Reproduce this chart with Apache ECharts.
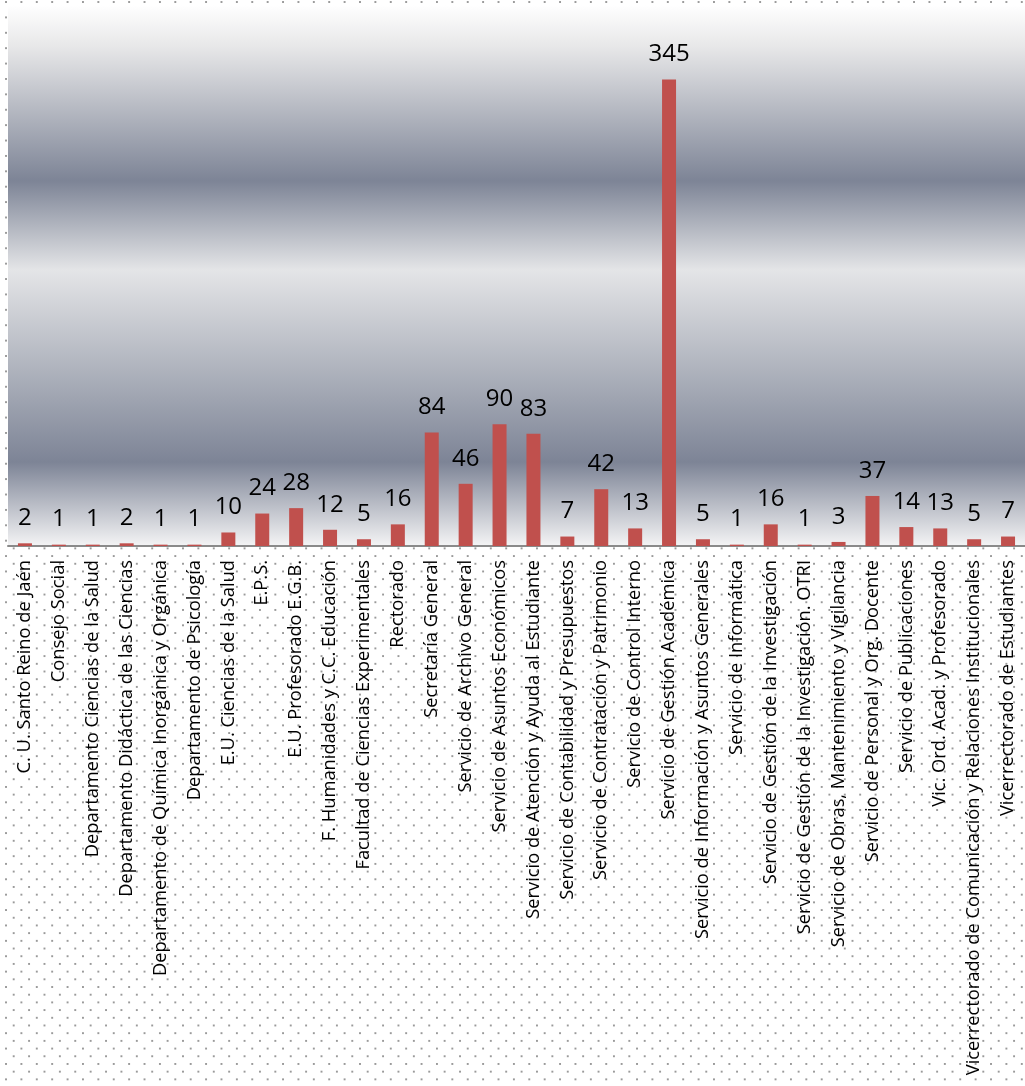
<!DOCTYPE html>
<html>
<head>
<meta charset="utf-8">
<script src="https://cdn.jsdelivr.net/npm/echarts@6/dist/echarts.min.js"></script>
<style>
html, body { margin: 0; padding: 0; }
body {
  width: 1025px; height: 1086px; overflow: hidden;
  background-color: #ffffff;
  background-image:
    radial-gradient(circle, #9a9a9a 0, #9a9a9a 0.9px, rgba(154,154,154,0) 1.5px),
    radial-gradient(circle, #9a9a9a 0, #9a9a9a 0.9px, rgba(154,154,154,0) 1.5px);
  background-size: 15.4px 15.4px, 15.4px 15.4px;
  background-position: -1.7px -5.7px, 6px 2px;
}
#chart { width: 1025px; height: 1086px; }
</style>
</head>
<body>
<div id="chart"></div>
<script>
const categories = [
  "C. U. Santo Reino de Jaén",
  "Consejo Social",
  "Departamento Ciencias de la Salud",
  "Departamento Didáctica de las Ciencias",
  "Departamento de Química Inorgánica y Orgánica",
  "Departamento de Psicología",
  "E.U. Ciencias de la Salud",
  "E.P.S.",
  "E.U. Profesorado E.G.B.",
  "F. Humanidades y C.C. Educación",
  "Facultad de Ciencias Experimentales",
  "Rectorado",
  "Secretaría General",
  "Servicio de Archivo General",
  "Servicio de Asuntos Económicos",
  "Servicio de Atención y Ayuda al Estudiante",
  "Servicio de Contabilidad y Presupuestos",
  "Servicio de Contratación y Patrimonio",
  "Servicio de Control Interno",
  "Servicio de Gestión Académica",
  "Servicio de Información y Asuntos Generales",
  "Servicio de Informática",
  "Servicio de Gestión de la Investigación",
  "Servicio de Gestión de la Investigación. OTRI",
  "Servicio de Obras, Mantenimiento y Vigilancia",
  "Servicio de Personal y Org. Docente",
  "Servicio de Publicaciones",
  "Vic. Ord. Acad. y Profesorado",
  "Vicerrectorado de Comunicación y Relaciones Institucionales",
  "Vicerrectorado de Estudiantes"
];
const values = [2, 1, 1, 2, 1, 1, 10, 24, 28, 12, 5, 16, 84, 46, 90, 83, 7, 42, 13, 345, 5, 1, 16, 1, 3, 37, 14, 13, 5, 7];
const yMin = 0;
const yMax = 400;

const chart = echarts.init(document.getElementById('chart'), null, { renderer: 'canvas' });
chart.setOption({
  backgroundColor: 'transparent',
  animation: false,
  grid: {
    left: 8, top: 5, width: 1026, height: 541,
    show: true,
    borderWidth: 0,
    backgroundColor: new echarts.graphic.LinearGradient(0, 0, 0, 1, [
      { offset: 0, color: '#FFFFFF' },
      { offset: 0.075, color: '#E8E8E9' },
      { offset: 0.325, color: '#7D8496' },
      { offset: 0.49, color: '#E4E5E7' },
      { offset: 0.845, color: '#7D8496' },
      { offset: 1, color: '#F4F4F5' }
    ])
  },
  xAxis: {
    type: 'category',
    data: categories,
    axisLine: { show: true, lineStyle: { color: '#8A8A8A', width: 2 } },
    axisTick: { show: false },
    axisLabel: {
      interval: 0,
      rotate: 90,
      margin: 14,
      color: '#000000',
      fontFamily: 'Open Sans',
      fontSize: 18.3
    }
  },
  yAxis: {
    type: 'value',
    min: yMin,
    max: yMax,
    show: false,
    splitLine: { show: false }
  },
  series: [{
    type: 'bar',
    data: values,
    barWidth: 14,
    itemStyle: { color: '#C0504D' },
    label: {
      show: true,
      position: 'top',
      distance: 13,
      color: '#000000',
      fontFamily: 'Open Sans',
      fontSize: 24
    }
  }]
});
</script>
</body>
</html>
